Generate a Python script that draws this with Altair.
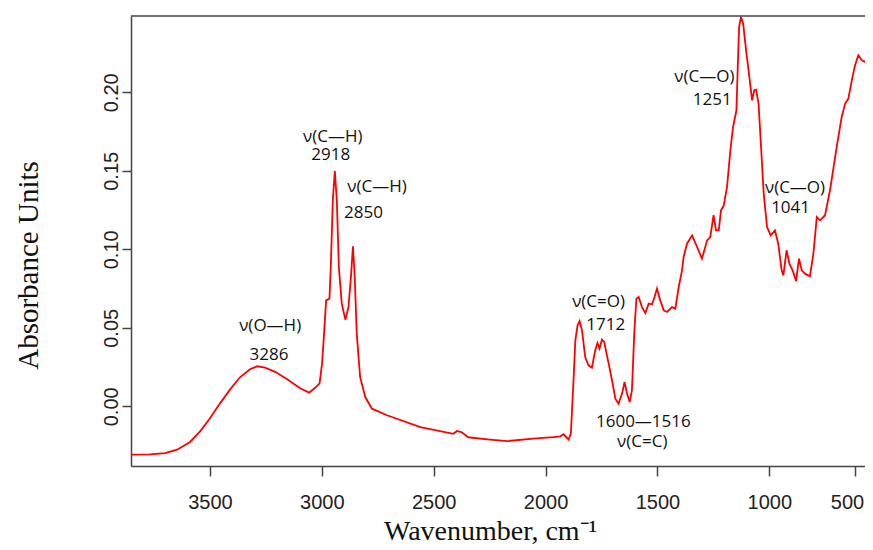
import altair as alt
import pandas as pd

# Spectrum (wavenumber in cm^-1, absorbance units)
wavenumber = [3853, 3768, 3701, 3647, 3589, 3544, 3500, 3455, 3410, 3366,
              3321, 3289, 3254, 3209, 3155, 3097, 3057, 3030, 3010, 2999,
              2990, 2981, 2966, 2960, 2951, 2942, 2933, 2924, 2911, 2895,
              2881, 2870, 2861, 2853, 2844, 2829, 2806, 2776, 2709, 2560,
              2412, 2396, 2374, 2346, 2261, 2171, 2055, 1966, 1934, 1920,
              1897, 1887, 1875, 1867, 1857, 1848, 1837, 1823, 1808, 1793,
              1778, 1768, 1759, 1748, 1738, 1718, 1703, 1688, 1674, 1658,
              1647, 1636, 1624, 1614, 1603, 1594, 1584, 1569, 1554, 1539,
              1524, 1513, 1502, 1490, 1472, 1457, 1435, 1420, 1405, 1390,
              1383, 1368, 1345, 1323, 1301, 1278, 1264, 1249, 1238, 1226,
              1216, 1204, 1189, 1174, 1162, 1147, 1141, 1135, 1127, 1117,
              1102, 1089, 1077, 1067, 1059, 1048, 1036, 1025, 1010, 992,
              967, 948, 928, 918, 899, 883, 864, 844, 827, 811,
              792, 763, 743, 723, 704, 675, 646, 607, 578, 558,
              539, 519, 500, 481, 461, 442, 422, 395]
absorbance = [-0.0308, -0.0306, -0.0298, -0.0276, -0.0227, -0.0159, -0.0076, 0.0019, 0.0108, 0.0185,
              0.0236, 0.0255, 0.0246, 0.0220, 0.0172, 0.0115, 0.0087, 0.0118, 0.0146, 0.0274,
              0.0465, 0.0675, 0.0686, 0.0887, 0.1312, 0.1499, 0.1312, 0.0887, 0.0654, 0.0552,
              0.0632, 0.0824, 0.1019, 0.0824, 0.0463, 0.0187, 0.0059, -0.0015, -0.0057, -0.0132,
              -0.0175, -0.0157, -0.0166, -0.0197, -0.0210, -0.0221, -0.0206, -0.0196, -0.0191, -0.0178,
              -0.0212, -0.0174, 0.0166, 0.0420, 0.0516, 0.0543, 0.0484, 0.0314, 0.0261, 0.0246,
              0.0357, 0.0403, 0.0368, 0.0425, 0.0410, 0.0272, 0.0166, 0.0049, 0.0017, 0.0081,
              0.0155, 0.0081, 0.0027, 0.0102, 0.0484, 0.0686, 0.0696, 0.0632, 0.0594, 0.0654,
              0.0650, 0.0696, 0.0750, 0.0686, 0.0611, 0.0601, 0.0632, 0.0622, 0.0760, 0.0866,
              0.0951, 0.1036, 0.1089, 0.1015, 0.0941, 0.1057, 0.1078, 0.1217, 0.1121, 0.1121,
              0.1248, 0.1277, 0.1397, 0.1631, 0.1779, 0.1885, 0.2161, 0.2416, 0.2481, 0.2438,
              0.2246, 0.2097, 0.1949, 0.2013, 0.2017, 0.1928, 0.1631, 0.1355, 0.1142, 0.1089,
              0.1121, 0.1036, 0.0866, 0.0834, 0.0994, 0.0909, 0.0866, 0.0798, 0.0941, 0.0866,
              0.0845, 0.0828, 0.0973, 0.1206, 0.1185, 0.1217, 0.1376, 0.1652, 0.1843, 0.1928,
              0.1960, 0.2076, 0.2172, 0.2236, 0.2204, 0.2193, 0.2236, 0.2288]

# Band annotations
ann_text = ["ν(O—H)", "3286", "ν(C—H)", "2918", "ν(C—H)", "2850",
            "ν(C=O)", "1712", "1600—1516", "ν(C=C)",
            "ν(C—O)", "1251", "ν(C—O)", "1041"]
ann_wn = [3231, 3236, 2951, 2960, 2753, 2814,
          1763, 1731, 1563, 1568,
          1290, 1255, 850, 876]
ann_ab = [0.0478, 0.0293, 0.1683, 0.1567, 0.1365, 0.1202,
          0.0632, 0.0489, -0.0132, -0.0261,
          0.2066, 0.1917, 0.1357, 0.1234]

# Axis ticks
x_ticks = [3500, 3000, 2500, 2000, 1500, 1000, 500]
y_ticks = [0.0, 0.05, 0.10, 0.15, 0.20]

df = pd.DataFrame({"wn": wavenumber, "ab": absorbance})
ann = pd.DataFrame({"text": ann_text, "wn": ann_wn, "ab": ann_ab})

W, H = 734, 450

xscale = alt.Scale(domain=[3853, 1000, 442], range=[0, 638.3, W], nice=False, zero=False)
yscale = alt.Scale(domain=[-0.038, 0.2486], nice=False, zero=False)

axis_color = "#444444"
x_axis = alt.Axis(
    values=x_ticks, format="d", grid=False,
    domainColor=axis_color, domainWidth=1.5, tickColor=axis_color, tickWidth=1.5, tickSize=10,
    labelFont="Liberation Sans", labelFontSize=20, labelColor="#222222",
    labelBaseline="alphabetic", labelPadding=32, labelAlign="center",
    labelOffset={"condition": {"test": "datum.value === 500", "value": -8}, "value": 0},
    title="Wavenumber, cm⁻¹", titleFont="Liberation Serif", titleFontSize=28,
    titleFontWeight="normal", titleColor="#111111", titleX=359, titleY=73,
    titleBaseline="alphabetic", titleAlign="center",
)
y_axis = alt.Axis(
    values=y_ticks, format=".2f", grid=False,
    domainColor=axis_color, domainWidth=1.5, tickColor=axis_color, tickWidth=1.5, tickSize=9,
    labelFont="Liberation Sans", labelFontSize=20, labelColor="#222222",
    labelAngle=270, labelAlign="center", labelBaseline="alphabetic", labelPadding=5,
    title="Absorbance Units", titleFont="Liberation Serif", titleFontSize=29,
    titleFontWeight="normal", titleColor="#111111", titleAngle=270,
    titleX=-94, titleY=249, titleAlign="center", titleBaseline="alphabetic",
)

x_enc = alt.X("wn:Q", scale=xscale, axis=x_axis)
y_enc = alt.Y("ab:Q", scale=yscale, axis=y_axis)

line = alt.Chart(df).mark_line(color="#ff0000", strokeWidth=1.8, clip=True).encode(
    x=x_enc, y=y_enc
)

labels = alt.Chart(ann).mark_text(
    font="Open Sans", fontSize=17, color="#111111", align="center", baseline="alphabetic"
).encode(x=x_enc, y=y_enc, text="text:N")

top_border = alt.Chart(pd.DataFrame({"k": [0]})).mark_rule(
    color=axis_color, strokeWidth=1.5
).encode(x=alt.value(0), x2=alt.value(W), y=alt.value(0))

chart = alt.layer(line, labels, top_border).properties(
    width=W, height=H,
    autosize=alt.AutoSizeParams(type="none"),
    padding={"left": 123, "top": 8, "right": 0, "bottom": 80},
    background="white",
).configure_view(stroke=None)

chart.save("out.html", embed_options={"renderer": "svg", "actions": False})
